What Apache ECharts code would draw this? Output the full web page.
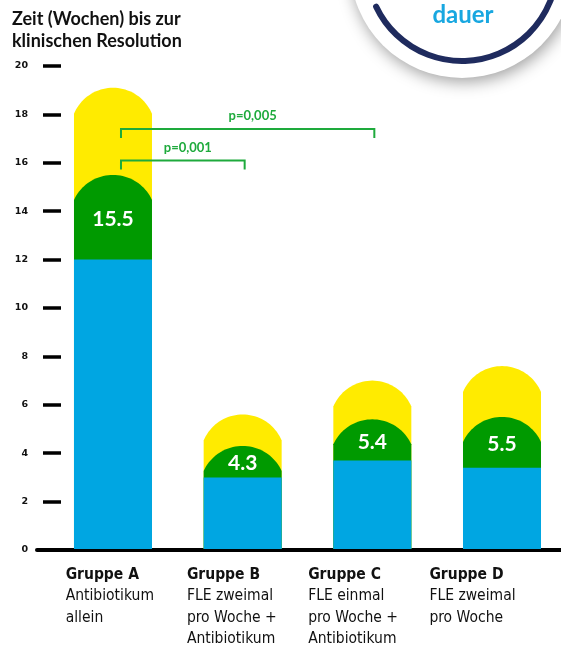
<!DOCTYPE html>
<html>
<head>
<meta charset="utf-8">
<script src="https://cdn.jsdelivr.net/npm/echarts@6/dist/echarts.min.js"></script>
<style>
html,body{margin:0;padding:0;background:#fff;}
#c{width:561px;height:649px;}
</style>
</head>
<body>
<div id="c"></div>
<script>
// ---- data ----
const categories = ['Gruppe A', 'Gruppe B', 'Gruppe C', 'Gruppe D'];
const descriptions = [
  ['Antibiotikum', 'allein'],
  ['FLE zweimal', 'pro Woche +', 'Antibiotikum'],
  ['FLE einmal', 'pro Woche +', 'Antibiotikum'],
  ['FLE zweimal', 'pro Woche']
];
const blueValues = [12.0, 3.0, 3.7, 3.4];
const greenValues = [15.5, 4.3, 5.4, 5.5];
const yellowValues = [19.1, 5.6, 7.0, 7.6];
const greenLabels = ['15.5', '4.3', '5.4', '5.5'];
const yTicks = [0, 2, 4, 6, 8, 10, 12, 14, 16, 18, 20];
const pStart = [0, 0];
const pEnd = [1, 2];
const pLevel = [16.1, 17.4];
const pLabels = ['p=0,001', 'p=0,005'];
const titleLines = ['Zeit (Wochen) bis zur', 'klinischen Resolution'];

// ---- styles ----
const BLUE = '#00a6e2', GREEN = '#009a00', YELLOW = '#ffeb00', PGREEN = '#1eaa3c';
const BAR_W = 78, YELLOW_DOME = 26, GREEN_DOME = 25;

const chart = echarts.init(document.getElementById('c'), null, {renderer: 'canvas'});

function domePolygon(cx, topY, bottomY, w, s) {
  const R = (s * s + w * w / 4) / (2 * s);
  const cyc = topY + R;
  const a = Math.asin((w / 2) / R);
  const pts = [[cx - w / 2, bottomY]];
  const n = 40;
  for (let k = 0; k <= n; k++) {
    const t = -a + 2 * a * k / n;
    pts.push([cx + R * Math.sin(t), cyc - R * Math.cos(t)]);
  }
  pts.push([cx + w / 2, bottomY]);
  return pts;
}

const barData = categories.map((c, i) => [i, blueValues[i], greenValues[i], yellowValues[i]]);
const pData = pLabels.map((l, i) => [pStart[i], pEnd[i], pLevel[i], i]);

function renderBar(params, api) {
  const i = api.value(0);
  const base = api.coord([i, 0]);
  const cx = base[0], by = base[1] - 1;
  const blueY = api.coord([i, api.value(1)])[1];
  const greenY = api.coord([i, api.value(2)])[1];
  const yellowY = api.coord([i, api.value(3)])[1];
  return {
    type: 'group',
    children: [
      {type: 'polygon', shape: {points: domePolygon(cx, yellowY, by, BAR_W, YELLOW_DOME)}, style: {fill: YELLOW}},
      {type: 'polygon', shape: {points: domePolygon(cx, greenY, by, BAR_W, GREEN_DOME)}, style: {fill: GREEN}},
      {type: 'rect', shape: {x: cx - BAR_W / 2, y: blueY, width: BAR_W, height: by - blueY}, style: {fill: BLUE}},
      {type: 'text', x: cx, y: (blueY + greenY) / 2 + 2,
        style: {text: greenLabels[i], fill: '#fff', font: 'bold 21px Lato, sans-serif', align: 'center', verticalAlign: 'middle'}}
    ]
  };
}

function renderP(params, api) {
  const s = api.value(0), e = api.value(1), lvl = api.value(2), idx = api.value(3);
  const y = api.coord([s, lvl])[1];
  const x1 = api.coord([s, lvl])[0] + 8;
  const x2 = api.coord([e, lvl])[0] + 2;
  const st = {stroke: PGREEN, lineWidth: 2, fill: null};
  return {
    type: 'group',
    children: [
      {type: 'polyline', shape: {points: [[x1, y + 9], [x1, y], [x2, y], [x2, y + 9]]}, style: st},
      {type: 'text', x: (x1 + x2) / 2 + 5, y: y - 13,
        style: {text: pLabels[idx], fill: PGREEN, font: 'bold 13px Lato, sans-serif', align: 'center', verticalAlign: 'middle'}}
    ]
  };
}

const option = {
  animation: false,
  backgroundColor: '#fff',
  title: {
    text: titleLines.join('\n'),
    left: 12, top: 8, padding: 0,
    textStyle: {fontFamily: 'Lato', fontWeight: 'bold', fontSize: 18, lineHeight: 22, color: '#111'}
  },
  graphic: [
    {type: 'circle', shape: {cx: 462, cy: -34, r: 112}, style: {fill: '#fff', shadowBlur: 16, shadowColor: 'rgba(0,0,0,0.38)', shadowOffsetY: 4, shadowOffsetX: 2}, z: 0},
    {type: 'arc', shape: {cx: 462, cy: -34, r: 95, startAngle: -0.4, endAngle: 2.70}, style: {stroke: '#1f2b5e', lineWidth: 6, fill: null, lineCap: 'round'}, z: 1},
    {type: 'text', x: 463, y: 15, style: {text: 'dauer', fill: '#18a7e0', font: 'bold 24px Lato, sans-serif', align: 'center', verticalAlign: 'middle'}, z: 2}
  ],
  grid: [
    {left: 37, right: 0, top: 66, height: 484},
    {left: 5, width: 485, top: 66, height: 484}
  ],
  xAxis: [
    {
      type: 'value', gridIndex: 0, min: -0.586, max: 3.455,
      axisLine: {show: true, onZero: false, lineStyle: {color: '#000', width: 4}},
      axisTick: {show: false},
      axisLabel: {show: false},
      splitLine: {show: false}
    },
    {
      type: 'category', gridIndex: 1, data: categories,
      axisLine: {show: false}, axisTick: {show: false},
      axisLabel: {
        show: true, align: 'left', margin: 14, interval: 0,
        formatter: function (v, i) {
          return ['{b|' + v + '}'].concat(descriptions[i].map(l => '{n|' + l + '}')).join('\n');
        },
        rich: {
          b: {fontFamily: 'DejaVu Sans Condensed, DejaVu Sans', fontWeight: 'bold', fontSize: 15.5, lineHeight: 21.5, color: '#111'},
          n: {fontFamily: 'DejaVu Sans Condensed, DejaVu Sans', fontSize: 15.5, lineHeight: 21.5, color: '#111'}
        }
      }
    }
  ],
  yAxis: [
    {
      type: 'value', gridIndex: 0, min: 0, max: 20, interval: 2, offset: -24,
      axisLine: {show: false, onZero: false},
      axisTick: {show: true, length: 18, lineStyle: {color: '#000', width: 3.5}},
      splitLine: {show: false},
      axisLabel: {
        margin: 33, color: '#111', fontFamily: 'DejaVu Sans', fontWeight: 'bold', fontSize: 9.5,
        formatter: v => (yTicks.indexOf(v) >= 0 ? String(v) : '')
      }
    },
    {type: 'value', gridIndex: 1, min: 0, max: 20, show: false}
  ],
  series: [
    {
      type: 'custom', xAxisIndex: 0, yAxisIndex: 0, renderItem: renderBar,
      data: barData, encode: {x: 0, y: [1, 2, 3]}, z: 2
    },
    {
      type: 'custom', xAxisIndex: 0, yAxisIndex: 0, renderItem: renderP,
      data: pData, encode: {x: [0, 1], y: 2}, z: 3
    }
  ]
};
chart.setOption(option);
</script>
</body>
</html>
